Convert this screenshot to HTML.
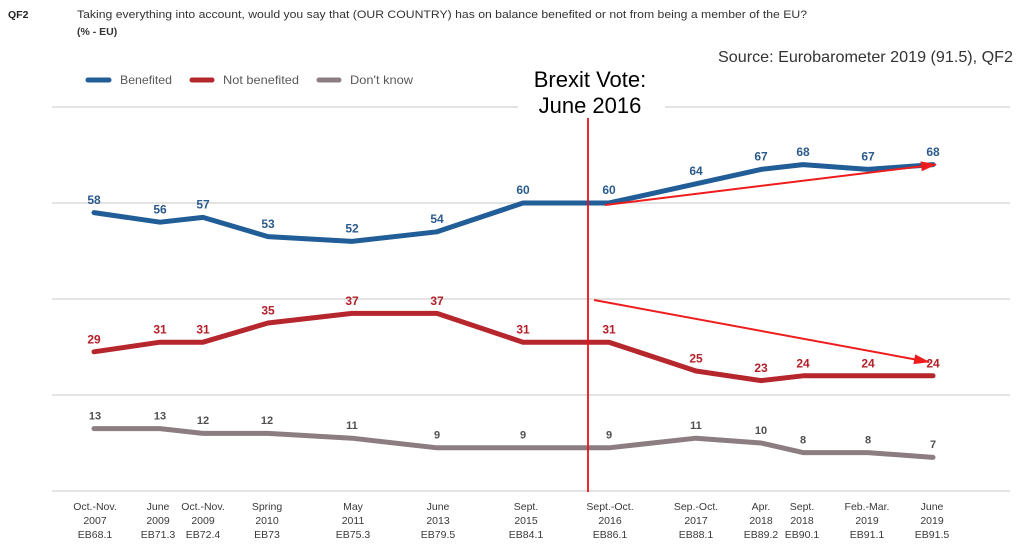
<!DOCTYPE html>
<html><head><meta charset="utf-8"><style>
html,body{margin:0;padding:0;background:#fff;}
svg{display:block;}
text{font-family:"Liberation Sans",Arial,sans-serif;}
</style></head><body>
<svg width="1024" height="553" viewBox="0 0 1024 553" xmlns="http://www.w3.org/2000/svg">
<defs>
<marker id="ah" markerWidth="16" markerHeight="12" refX="15" refY="6" orient="auto" markerUnits="userSpaceOnUse">
<path d="M0,1 L16,6 L0,11 Z" fill="#ee1c1c"/>
</marker>
</defs>
<!-- header -->
<text x="8" y="18" font-size="10.5" font-weight="bold" fill="#222">QF2</text>
<text x="77" y="18" font-size="11" fill="#333" textLength="730" lengthAdjust="spacingAndGlyphs">Taking everything into account, would you say that (OUR COUNTRY) has on balance benefited or not from being a member of the EU?</text>
<text x="77" y="35" font-size="10.5" font-weight="bold" fill="#333">(% - EU)</text>
<text x="718" y="62" font-size="16" fill="#333" textLength="295" lengthAdjust="spacingAndGlyphs">Source: Eurobarometer 2019 (91.5), QF2</text>

<!-- legend -->
<g stroke-width="5" stroke-linecap="round">
<line x1="88" y1="80" x2="109" y2="80" stroke="#215d96"/>
<line x1="192" y1="80" x2="212" y2="80" stroke="#b5262d"/>
<line x1="319" y1="80" x2="339" y2="80" stroke="#8b7d80"/>
</g>
<g font-size="12" fill="#595959">
<text x="120" y="84" textLength="52" lengthAdjust="spacingAndGlyphs">Benefited</text>
<text x="223" y="84" textLength="76" lengthAdjust="spacingAndGlyphs">Not benefited</text>
<text x="350" y="84" textLength="63" lengthAdjust="spacingAndGlyphs">Don't know</text>
</g>

<!-- gridlines -->
<g stroke="#dadada" stroke-width="1.5">
<line x1="52" y1="107" x2="518" y2="107"/>
<line x1="665" y1="107" x2="1010" y2="107"/>
<line x1="52" y1="203" x2="1010" y2="203"/>
<line x1="52" y1="299" x2="1010" y2="299"/>
<line x1="52" y1="395" x2="1010" y2="395"/>
<line x1="52" y1="491" x2="1010" y2="491"/>
</g>

<!-- Brexit label -->
<text x="590" y="87" font-size="22" fill="#000" text-anchor="middle">Brexit Vote:</text>
<text x="590" y="113" font-size="22" fill="#000" text-anchor="middle">June 2016</text>

<!-- series lines -->
<g fill="none" stroke-width="5" stroke-linejoin="round" stroke-linecap="round">
<polyline stroke="#215d96" points="94,212.6 160,222.2 203,217.4 268,236.6 352,241.4 437,231.8 523,203 609,203 696,183.8 761,169.4 803,164.6 868,169.4 933,164.6"/>
<polyline stroke="#b5262d" points="94,351.8 160,342.2 203,342.2 268,323 352,313.4 437,313.4 523,342.2 609,342.2 696,371 761,380.6 803,375.8 868,375.8 933,375.8"/>
<polyline stroke="#8b7d80" points="94,428.6 160,428.6 203,433.4 268,433.4 352,438.2 437,447.8 523,447.8 609,447.8 696,438.2 761,443 803,452.6 868,452.6 933,457.4"/>
</g>

<!-- blue labels -->
<g font-size="12" font-weight="bold" fill="#2b5a8c" text-anchor="middle">
<text x="94" y="204">58</text>
<text x="160" y="213.5">56</text>
<text x="203" y="208.5">57</text>
<text x="268" y="228">53</text>
<text x="352" y="232.5">52</text>
<text x="437" y="223">54</text>
<text x="523" y="194">60</text>
<text x="609" y="194">60</text>
<text x="696" y="175">64</text>
<text x="761" y="160.5">67</text>
<text x="803" y="156">68</text>
<text x="868" y="160.5">67</text>
<text x="933" y="156">68</text>
</g>
<!-- red labels -->
<g font-size="12" font-weight="bold" fill="#b3202a" text-anchor="middle">
<text x="94" y="343.3">29</text>
<text x="160" y="333.7">31</text>
<text x="203" y="333.7">31</text>
<text x="268" y="314.5">35</text>
<text x="352" y="305">37</text>
<text x="437" y="305">37</text>
<text x="523" y="333.7">31</text>
<text x="609" y="333.7">31</text>
<text x="696" y="362.5">25</text>
<text x="761" y="372">23</text>
<text x="803" y="367.3">24</text>
<text x="868" y="367.3">24</text>
<text x="933" y="367.3">24</text>
</g>
<!-- gray labels -->
<g font-size="11" font-weight="bold" fill="#505050" text-anchor="middle">
<text x="95" y="419.3">13</text>
<text x="160" y="419.3">13</text>
<text x="203" y="424">12</text>
<text x="267" y="424">12</text>
<text x="352" y="429">11</text>
<text x="437" y="438.5">9</text>
<text x="523" y="438.5">9</text>
<text x="609" y="438.5">9</text>
<text x="696" y="429">11</text>
<text x="761" y="434">10</text>
<text x="803" y="443.5">8</text>
<text x="868" y="443.5">8</text>
<text x="933" y="448">7</text>
</g>

<!-- brexit vertical line & arrows -->
<line x1="588" y1="118" x2="588" y2="492" stroke="#e8141b" stroke-width="1.8"/>
<line x1="605" y1="205" x2="936" y2="164.5" stroke="#ee1c1c" stroke-width="2" marker-end="url(#ah)"/>
<line x1="594" y1="300" x2="929" y2="362" stroke="#ee1c1c" stroke-width="2" marker-end="url(#ah)"/>

<!-- x axis labels -->
<g font-size="10.5" fill="#3a3a3a" text-anchor="middle">
<text x="95" y="510">Oct.-Nov.</text><text x="95" y="524">2007</text><text x="95" y="538">EB68.1</text>
<text x="158" y="510">June</text><text x="158" y="524">2009</text><text x="158" y="538">EB71.3</text>
<text x="203" y="510">Oct.-Nov.</text><text x="203" y="524">2009</text><text x="203" y="538">EB72.4</text>
<text x="267" y="510">Spring</text><text x="267" y="524">2010</text><text x="267" y="538">EB73</text>
<text x="353" y="510">May</text><text x="353" y="524">2011</text><text x="353" y="538">EB75.3</text>
<text x="438" y="510">June</text><text x="438" y="524">2013</text><text x="438" y="538">EB79.5</text>
<text x="526" y="510">Sept.</text><text x="526" y="524">2015</text><text x="526" y="538">EB84.1</text>
<text x="610" y="510">Sept.-Oct.</text><text x="610" y="524">2016</text><text x="610" y="538">EB86.1</text>
<text x="696" y="510">Sep.-Oct.</text><text x="696" y="524">2017</text><text x="696" y="538">EB88.1</text>
<text x="761" y="510">Apr.</text><text x="761" y="524">2018</text><text x="761" y="538">EB89.2</text>
<text x="802" y="510">Sept.</text><text x="802" y="524">2018</text><text x="802" y="538">EB90.1</text>
<text x="867" y="510">Feb.-Mar.</text><text x="867" y="524">2019</text><text x="867" y="538">EB91.1</text>
<text x="932" y="510">June</text><text x="932" y="524">2019</text><text x="932" y="538">EB91.5</text>
</g>
</svg>
</body></html>
